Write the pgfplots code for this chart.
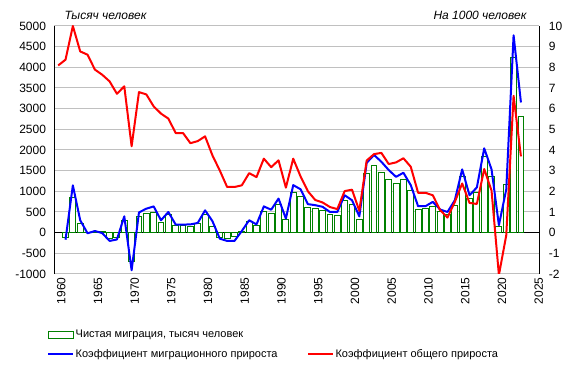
\documentclass[border=0pt]{standalone}
\usepackage{fontspec}
\setmainfont{Liberation Sans}
\usepackage{pgfplots}
\usepackage{pgfplotstable}
\pgfplotsset{compat=1.18}
\definecolor{gridgray}{RGB}{192,192,192}
\definecolor{bargreen}{RGB}{0,128,0}
\pgfplotsset{
  linelegend/.style={legend image code/.code={\draw[##1] (0pt,0pt) -- (25pt,0pt);}},
  barlegend/.style={legend image code/.code={\draw[##1] (0pt,-3.3pt) rectangle (25pt,3.3pt);}},
}
\pgfplotstableread{
year mig
1961 -120
1962 850
1963 220
1964 10
1965 40
1966 40
1967 -150
1968 -120
1969 295
1970 -700
1971 395
1972 460
1973 484
1974 242
1975 440
1976 165
1977 165
1978 140
1979 215
1980 430
1981 155
1982 -125
1983 -150
1984 -90
1985 40
1986 280
1987 177
1988 515
1989 462
1990 680
1991 318
1992 980
1993 880
1994 605
1995 580
1996 540
1997 435
1998 411
1999 782
2000 680
2001 315
2002 1440
2003 1620
2004 1455
2005 1282
2006 1195
2007 1282
2008 1024
2009 556
2010 580
2011 637
2012 500
2013 450
2014 661
2015 1363
2016 823
2017 975
2018 1847
2019 1363
2020 153
2021 1169
2022 4233
2023 2805
}\migtable
\pgfplotstableread{
year rate
1961 -0.34
1962 2.29
1963 0.60
1964 -0.03
1965 0.08
1966 -0.02
1967 -0.40
1968 -0.33
1969 0.79
1970 -1.82
1971 0.98
1972 1.16
1973 1.27
1974 0.60
1975 1.00
1976 0.39
1977 0.39
1978 0.40
1979 0.47
1980 1.08
1981 0.56
1982 -0.29
1983 -0.40
1984 -0.40
1985 0.08
1986 0.60
1987 0.40
1988 1.27
1989 1.11
1990 1.65
1991 0.68
1992 2.30
1993 2.10
1994 1.38
1995 1.33
1996 1.25
1997 1.00
1998 1.00
1999 1.81
2000 1.57
2001 0.79
2002 3.38
2003 3.76
2004 3.43
2005 3.03
2006 2.70
2007 2.90
2008 2.30
2009 1.28
2010 1.28
2011 1.49
2012 1.12
2013 1.00
2014 1.57
2015 3.06
2016 1.81
2017 2.19
2018 4.08
2019 3.06
2020 0.36
2021 2.09
2022 9.55
2023 6.30
}\migrate
\pgfplotstableread{
year rate
1960 8.09
1961 8.37
1962 10.00
1963 8.77
1964 8.61
1965 7.89
1966 7.64
1967 7.32
1968 6.72
1969 7.08
1970 4.18
1971 6.80
1972 6.69
1973 6.11
1974 5.76
1975 5.52
1976 4.82
1977 4.82
1978 4.33
1979 4.43
1980 4.66
1981 3.74
1982 3.01
1983 2.21
1984 2.21
1985 2.29
1986 2.88
1987 2.69
1988 3.58
1989 3.17
1990 3.50
1991 2.18
1992 3.58
1993 2.72
1994 2.00
1995 1.58
1996 1.46
1997 1.24
1998 1.14
1999 2.01
2000 2.08
2001 1.06
2002 3.49
2003 3.80
2004 3.86
2005 3.32
2006 3.40
2007 3.60
2008 3.19
2009 1.93
2010 1.93
2011 1.81
2012 1.09
2013 0.73
2014 1.49
2015 2.38
2016 1.44
2017 1.39
2018 3.08
2019 2.03
2020 -2.05
2021 -0.13
2022 6.62
2023 3.69
}\totrate
\begin{document}
\begin{tikzpicture}
\pgfplotsset{
  every axis/.append style={
    scale only axis, width=484.8pt, height=248pt,
    xmin=1959.5, xmax=2025.5,
    /pgf/number format/assume math mode=true,
    /pgf/number format/1000 sep={},
    tick label style={font=\fontsize{12}{14}\selectfont},
    major tick length=0pt,
    scaled y ticks=false,
  }
}
\path[use as bounding box] (-54.5pt,-97pt) rectangle (523.5pt,274pt);
\begin{axis}[at={(0pt,0pt)}, anchor=south west,
  ymin=-1000, ymax=5000, ytick={-1000,-500,...,5000},
  xtick={1960,1965,...,2025},
  xticklabel style={rotate=90, anchor=east, yshift=-3pt},
  yticklabel style={xshift=-5pt},
  ymajorgrids, grid style={gridgray, line width=1pt},
  axis lines*=left,
  x axis line style={gridgray, line width=1pt},
  y axis line style={black, line width=1pt},
  extra y ticks={0}, extra y tick labels={},
  extra y tick style={grid style={black, line width=1pt}},
  ybar, bar width=0.8,
]
\addplot[draw=bargreen, fill=white, line width=1pt] table[x=year, y=mig] {\migtable};
\end{axis}
\begin{axis}[at={(0pt,0pt)}, anchor=south west,
  ymin=-2, ymax=10, ytick={-2,-1,...,10},
  axis y line*=right, axis x line=none,
  y axis line style={black, line width=1pt},
  yticklabel style={anchor=west, xshift=6pt},
  legend columns=2,
  legend cell align=left,
  legend style={draw=none, fill=none, inner sep=0pt,
    font=\fontsize{11}{13}\selectfont,
    at={(axis description cs:-0.0155,-0.22)}, anchor=north west,
    row sep=7pt,
    /tikz/every even column/.append style={column sep=28pt},
    nodes={inner sep=1.5pt}},
]
\addlegendimage{draw=bargreen, fill=white, line width=1pt, barlegend}
\addlegendentry{Чистая миграция, тысяч человек}
\addlegendimage{empty legend}
\addlegendentry{}
\addplot[blue, line width=2pt, line join=round, linelegend] table[x=year, y=rate] {\migrate};
\addlegendentry{Коэффициент миграционного прироста}
\addplot[red, line width=2pt, line join=round, linelegend] table[x=year, y=rate] {\totrate};
\addlegendentry{Коэффициент общего прироста}
\end{axis}
\node[anchor=west, inner sep=0pt, font=\itshape\fontsize{12}{14}\selectfont] at (9.8pt,259pt) {Тысяч человек};
\node[anchor=east, inner sep=0pt, font=\itshape\fontsize{12}{14}\selectfont] at (472.2pt,259pt) {На 1000 человек};
\end{tikzpicture}
\end{document}
